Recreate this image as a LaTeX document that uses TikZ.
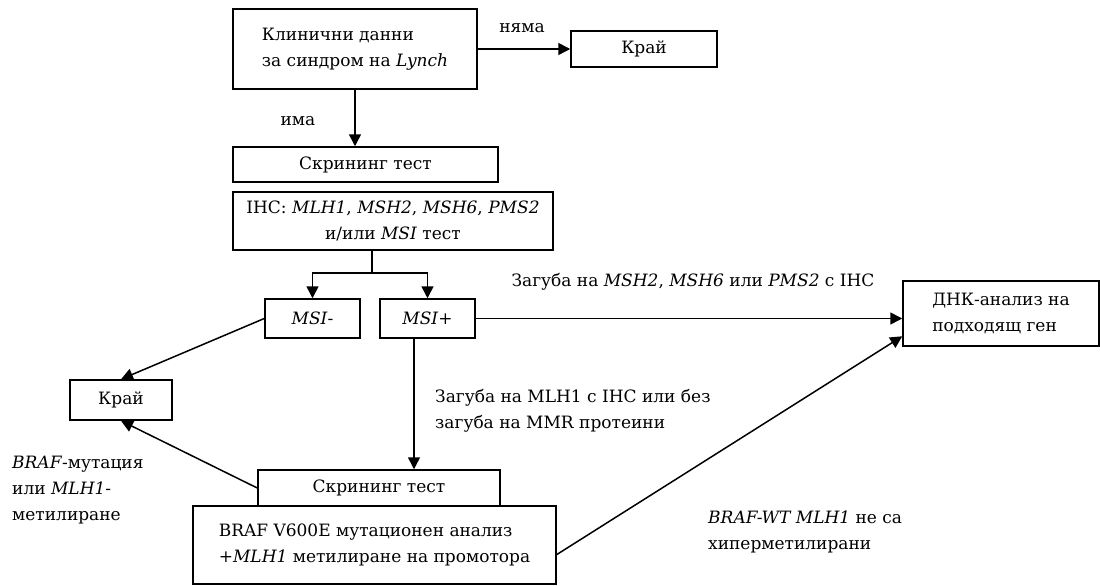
\documentclass[tikz,border=0pt]{standalone}
\usepackage{fontspec}
\setmainfont{DejaVu Serif}
\usetikzlibrary{arrows.meta}

\begin{document}
\begin{tikzpicture}[x=1pt,y=-1pt,
    font=\fontsize{17}{26}\selectfont,
    box/.style={draw,line width=1.5pt,align=left,inner sep=0pt},
    arr/.style={line width=1.5pt,-{Triangle[length=12pt,width=12pt]}},
    lbl/.style={inner sep=0pt,align=left}]
  \useasboundingbox (0,0) rectangle (1100,586);

  % boxes
  \node[box,minimum width=244pt,minimum height=80pt] (clin) at (355,49)
    {Клинични данни\\за синдром на \textit{Lynch}};
  \node[box,minimum width=146pt,minimum height=36pt] (end1) at (644,49) {Край};
  \node[box,minimum width=265pt,minimum height=35pt] (screen1) at (365.5,164.5) {Скрининг тест};
  \node[box,align=center,minimum width=320pt,minimum height=58pt] (ihc) at (393,221)
    {IHC: \textit{MLH1}, \textit{MSH2}, \textit{MSH6}, \textit{PMS2}\\и/или \textit{MSI} тест};
  \node[box,minimum width=95pt,minimum height=39pt] (msineg) at (312.5,318.5) {\textit{MSI}-};
  \node[box,minimum width=95pt,minimum height=39pt] (msipos) at (427.5,318.5) {\textit{MSI}+};
  \node[box,minimum width=196pt,minimum height=65pt] (dna) at (1001,313.5)
    {ДНК-анализ на\\подходящ ген};
  \node[box,minimum width=102pt,minimum height=40pt] (end2) at (121,400) {Край};
  \node[box,minimum width=242pt,minimum height=36pt] (screen2) at (379,488) {Скрининг тест};
  \node[box,minimum width=363pt,minimum height=78pt] (braf) at (374.5,545)
    {BRAF V600E мутационен анализ\\+\textit{MLH1} метилиране на промотора};

  % labels
  \node[lbl] (no) at (522,28) {няма};
  \node[lbl] (yes) at (298,121) {има};
  \node[lbl] (lossA) at (693,282)
    {Загуба на \textit{MSH2}, \textit{MSH6} или \textit{PMS2} с IHC};
  \node[lbl,anchor=west] (lossB) at (435,411)
    {Загуба на MLH1 с IHC или без\\загуба на MMR протеини};
  \node[lbl,anchor=west] (braflbl) at (12,490)
    {\textit{BRAF}-мутация\\или \textit{MLH1}-\\метилиране};
  \node[lbl,anchor=west] (wtlbl) at (708,532)
    {\textit{BRAF-WT MLH1} не са\\хиперметилирани};

  % connectors
  \coordinate (split) at (372,273);
  \coordinate (drop) at (414,400);
  \draw[arr] (clin.east) -- (end1.west);
  \draw[arr] (clin.south) -- (clin.south |- screen1.north);
  \draw[line width=1.5pt] (split |- ihc.south) -- (split);
  \draw[arr] (split) -| (msineg);
  \draw[arr] (split) -| (msipos);
  \draw[arr] (msipos.east) -- (msipos.east -| dna.west);
  \draw[arr] (msineg.west) -- (end2.north);
  \draw[arr] (drop |- msipos.south) -- (drop |- screen2.north);
  \draw[arr] (screen2.west) -- (end2.south);
  \draw[arr] (braf.-3) -- (dna.193);
\end{tikzpicture}
\end{document}
